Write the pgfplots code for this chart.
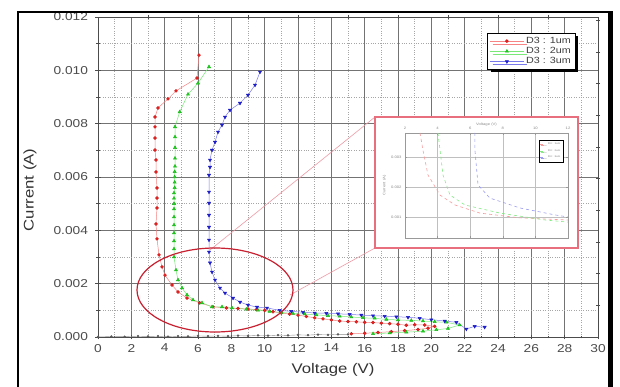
\documentclass[border=0pt]{standalone}
\usepackage{fontspec}
\setmainfont{Liberation Sans}[FakeStretch=1.2]
\usepackage{pgfplots}
\pgfplotsset{compat=1.18}
\usetikzlibrary{shadows}
\definecolor{rd}{HTML}{F02020}
\definecolor{gn}{HTML}{20D820}
\definecolor{bl}{HTML}{2020E0}
\definecolor{pinkline}{HTML}{E8707E}
\definecolor{ellred}{HTML}{C82030}
\begin{document}
\begin{tikzpicture}
\useasboundingbox (0,0) rectangle (620bp,387bp);
\fill[white] (0,0) rectangle (620bp,387bp);
% main axis
\begin{axis}[
  at={(98bp,50bp)}, anchor=south west,
  scale only axis, width=500bp, height=320bp,
  xmin=0, xmax=30, ymin=0, ymax=0.012,
  xtick={0,2,4,6,8,10,12,14,16,18,20,22,24,26,28,30},
  ytick={0,0.002,0.004,0.006,0.008,0.010,0.012},
  minor x tick num=1, minor y tick num=1,
  xtick pos=bottom, ytick pos=left,
  grid=both,
  major grid style={black!55, line width=0.6bp},
  minor grid style={black!35, dotted, line width=0.5bp},
  axis line style={black!70, line width=0.8bp},
  tick style={black!70, line width=0.6bp},
  tick align=center, major tick length=5bp, minor tick length=3bp,
  scaled y ticks=false,
  yticklabel style={/pgf/number format/.cd, fixed, fixed zerofill, precision=3, /tikz/.cd, xshift=-4bp},
  xticklabel style={yshift=-1bp},
  /pgf/number format/assume math mode=true,
  ticklabel style={font=\fontsize{11.5}{13}\selectfont, text=black!70},
  xlabel={Voltage (V)}, ylabel={Current (A)},
  label style={font=\fontsize{14}{16}\selectfont, text=black!80},
  xlabel style={at={(axis description cs:0.47,0)}, anchor=center, yshift=-33bp},
  ylabel style={at={(axis description cs:-0.136,0.46)}, anchor=center},
  legend style={at={(axis description cs:0.954,0.95)}, anchor=north east,
    draw=black, fill=white, font=\fontsize{9}{11}\selectfont, text=black!75,
    inner sep=2bp, row sep=-1.5bp,
    drop shadow={shadow xshift=3bp, shadow yshift=-3bp, fill=black, opacity=1}},
  legend cell align=left,
  legend image code/.code={\draw[mark repeat=2,mark phase=2] plot coordinates {(0cm,0cm) (0.6cm,0cm) (1.2cm,0cm)};},
]
\addplot[color=rd!55, line width=0.5bp, mark=*, mark size=1.5bp, mark options={fill=rd, draw=rd!85!black}] coordinates {
(15.2,0.00012)(16.0,0.00014)(16.8,0.00017)(17.6,0.0002)(18.4,0.00024)(19.2,0.00028)(19.8,0.00033)
(20.2,0.0004)(19.6,0.00045)(19.0,0.00046)(18.5,0.00044)(18.0,0.00048)(17.5,0.0005)(17.0,0.00052)(16.5,0.00054)(16.0,0.00055)(15.5,0.00057)(15.0,0.00058)(14.5,0.0006)(14.0,0.00064)(13.5,0.00068)(13.0,0.00072)(12.5,0.00077)(12.0,0.00082)(11.5,0.00086)(11.0,0.0009)(10.5,0.00095)(10.0,0.001)(9.5,0.00103)(9.0,0.00105)(8.4,0.00107)(7.7,0.00109)(6.9,0.00113)(6.1,0.00128)(5.34,0.00146)(4.8,0.00169)(4.44,0.00195)(4.02,0.00232)(3.84,0.00263)(3.66,0.00308)(3.54,0.00368)(3.48,0.00424)(3.54,0.00484)(3.54,0.00521)(3.54,0.00559)(3.48,0.00619)(3.48,0.00664)(3.42,0.00701)(3.42,0.00746)(3.42,0.00788)(3.42,0.00825)(3.6,0.00859)(4.2,0.00893)(4.68,0.00923)(5.94,0.00971)(6.06,0.01057)
};
\addlegendentry{D3 : 1um}
\addplot[color=gn!60, line width=0.5bp, mark=triangle*, mark size=1.8bp, mark options={fill=gn, draw=gn!85!black}] coordinates {
(16.5,0.00012)(17.5,0.00015)(18.5,0.00018)(19.5,0.00022)(20.3,0.00027)(21.0,0.00032)
(21.7,0.00045)(20.9,0.00055)(20.2,0.00057)(19.5,0.0006)(18.8,0.00062)(18.0,0.00064)(17.3,0.00066)(16.6,0.0007)(15.9,0.00072)(15.2,0.00075)(14.5,0.00078)(13.8,0.0008)(13.1,0.00083)(12.4,0.00086)(11.7,0.00088)(11.0,0.00092)(10.3,0.00096)(9.6,0.001)(8.9,0.00104)(8.04,0.00109)(7.44,0.00113)(6.84,0.00113)(6.24,0.00128)(5.7,0.00139)(5.34,0.00158)(5.04,0.00184)(4.8,0.00214)(4.68,0.00251)(4.56,0.0030)(4.56,0.0033)(4.56,0.0036)(4.56,0.0039)(4.56,0.0042)(4.56,0.0045)(4.56,0.0048)(4.56,0.0050)(4.56,0.0052)(4.56,0.0054)(4.6,0.0056)(4.6,0.0058)(4.6,0.0060)(4.6,0.0062)(4.62,0.0064)(4.62,0.0067)(4.62,0.0071)(4.62,0.0075)(4.62,0.00788)(4.9,0.00844)(5.4,0.0091)(6.0,0.00952)(6.66,0.01013)
};
\addlegendentry{D3 : 2um}
\addplot[color=bl!60, line width=0.5bp, mark=triangle*, mark size=1.8bp, mark options={rotate=180, fill=bl, draw=bl!85!black}] coordinates {
(23.2,0.00037)(22.6,0.00040)(22.1,0.00030)(21.5,0.00055)(20.8,0.0006)(20.0,0.00065)(19.3,0.0007)(18.6,0.00074)(17.9,0.00076)(17.2,0.00078)(16.5,0.0008)(15.8,0.00082)(15.1,0.00085)(14.4,0.00087)(13.7,0.00089)(13.0,0.0009)(12.3,0.00093)(11.6,0.00096)(10.9,0.001)(10.14,0.00109)(9.54,0.00112)(9.0,0.0012)(8.52,0.00131)(8.1,0.00146)(7.62,0.00165)(7.32,0.00184)(7.02,0.00214)(6.84,0.00244)(6.72,0.00278)(6.66,0.00319)(6.66,0.00364)(6.66,0.00412)(6.66,0.00457)(6.66,0.00502)(6.66,0.00544)(6.66,0.00607)(6.72,0.00637)(6.72,0.00664)(6.84,0.00701)(7.02,0.00731)(7.2,0.00769)(7.44,0.00795)(7.62,0.00825)(7.92,0.00851)(8.52,0.00877)(9.0,0.00907)(9.42,0.00945)(9.72,0.00994)
};
\addlegendentry{D3 : 3um}
\addplot[forget plot, color=black!45, line width=0.4bp, mark=*, mark size=1bp, mark options={fill=black!65, draw=black!65}] coordinates {
(0,0)(0.8,0.00002)(1.6,0.00001)(2.4,0.00003)(3.0,0.00002)(3.6,0.00003)(4.2,0.00001)(4.8,0.00003)(5.4,0.00002)(6.0,0.00004)(6.6,0.00003)(7.2,0.00004)(7.8,0.00003)(8.4,0.00005)(9.0,0.00004)(9.6,0.00006)(10.2,0.00005)(10.8,0.00007)(11.4,0.00006)(12.0,0.00008)(12.6,0.00007)(13.2,0.00009)(13.8,0.00008)(14.4,0.0001)(15.0,0.0001)
};
\end{axis}
% secondary top/right ticks
\begin{axis}[
  at={(98bp,50bp)}, anchor=south west,
  scale only axis, width=500bp, height=320bp,
  xmin=0, xmax=30, ymin=0, ymax=10.1,
  axis x line*=top, axis y line*=right,
  xtick={3,6,9,12,15,18,21,24,27}, ytick={1,2,3,4,5,6,7,8,9,10},
  xticklabels={}, yticklabels={},
  axis line style={black!70, line width=0.8bp},
  tick style={black!70, line width=0.6bp},
  tick align=center, major tick length=4bp,
]
\end{axis}
% zoom ellipse and connectors
\draw[pinkline!70, line width=0.6bp] (210bp,137bp) -- (375bp,270bp);
\draw[pinkline!70, line width=0.6bp] (290bp,92bp) -- (375bp,139bp);
\draw[ellred, line width=1.2bp] (215bp,97bp) ellipse [x radius=78bp, y radius=42bp];
% inset frame
\draw[pinkline, line width=2.5bp, fill=white] (375bp,139bp) rectangle (578bp,270bp);
\begin{axis}[
  at={(405bp,149bp)}, anchor=south west,
  scale only axis, width=163bp, height=105bp,
  xmin=2, xmax=12, ymin=0.0003, ymax=0.0038,
  xtick={2,4,6,8,10,12}, xticklabel pos=top,
  ytick={0.001,0.002,0.003},
  scaled y ticks=false,
  yticklabel style={/pgf/number format/.cd, fixed, fixed zerofill, precision=3},
  /pgf/number format/assume math mode=true,
  grid=major, major grid style={black!25, line width=0.3bp},
  axis line style={black!40, line width=0.4bp},
  tick style={black!40, line width=0.3bp}, major tick length=2bp,
  ticklabel style={font=\fontsize{3.5}{4}\selectfont, text=black!45},
  title={Voltage (V)}, title style={font=\fontsize{3.5}{4}\selectfont, text=black!45, yshift=-3bp},
  ylabel={Current (A)}, ylabel style={font=\fontsize{3.5}{4}\selectfont, text=black!45, yshift=-2bp},
  legend style={at={(0.97,0.93)}, anchor=north east, draw=black, fill=white,
    font=\fontsize{2.5}{3}\selectfont, text=black!50, inner sep=0.6bp, row sep=-0.8bp,
    drop shadow={shadow xshift=1bp, shadow yshift=-1bp, fill=black, opacity=1}},
  legend image code/.code={\draw plot coordinates {(0cm,0cm) (0.2cm,0cm)};},
]
\addplot[rd!45, dashed, line width=0.6bp] coordinates {(2.92,0.0038)(3.1,0.00323)(3.41,0.0024)(4.15,0.00173)(5.07,0.0014)(6.6,0.00113)(9.06,0.00097)(12,0.0009)};
\addlegendentry{D3 : 1um}
\addplot[gn!55, dashed, line width=0.6bp] coordinates {(4.02,0.0038)(4.15,0.00323)(4.33,0.0024)(4.76,0.00173)(5.68,0.0014)(7.83,0.00113)(10.6,0.0009)(12,0.00083)};
\addlegendentry{D3 : 2um}
\addplot[bl!45, dashed, line width=0.6bp] coordinates {(6.29,0.0038)(6.29,0.00323)(6.48,0.00207)(7.21,0.00163)(9.06,0.0013)(11.2,0.00107)(12,0.001)};
\addlegendentry{D3 : 3um}
\end{axis}
% outer frame
\draw[black, line width=2.2bp] (18bp,0) -- (18bp,375bp) -- (610bp,375bp);
\fill[black] (608bp,0) rectangle (613bp,376bp);
\end{tikzpicture}
\end{document}
